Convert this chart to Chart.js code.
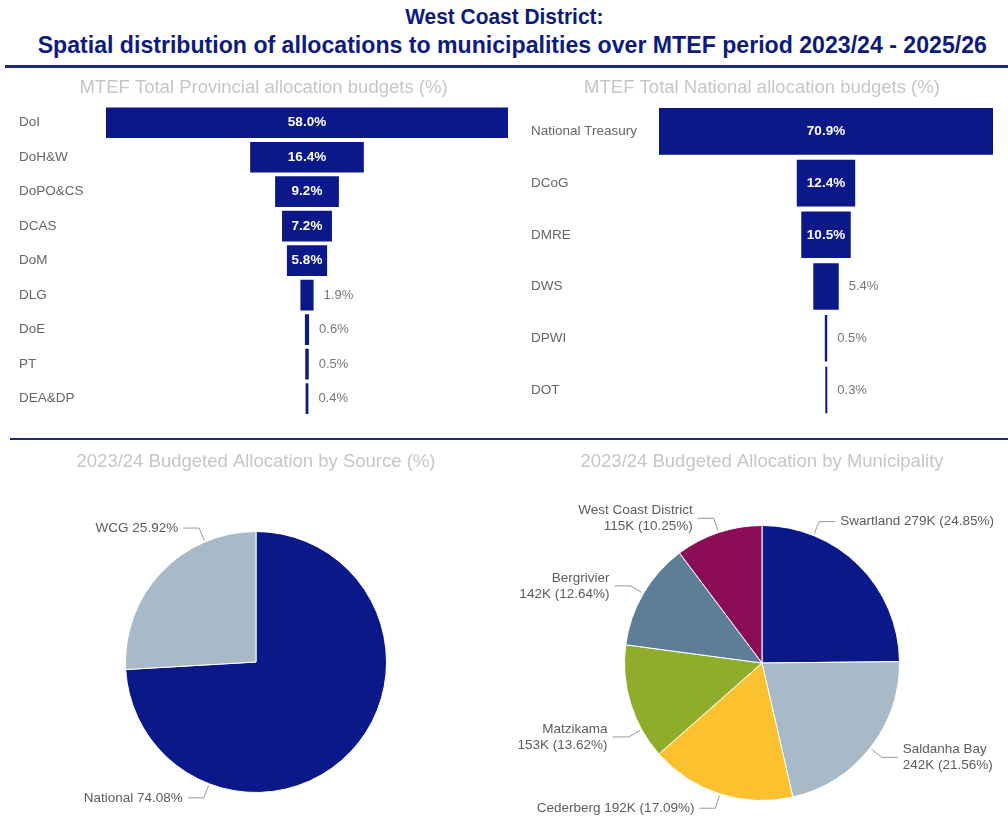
<!DOCTYPE html>
<html>
<head>
<meta charset="utf-8">
<title>West Coast District allocations</title>
<script src="https://cdn.jsdelivr.net/npm/chart.js@4.4.1/dist/chart.umd.min.js"></script>
<style>
  body { margin: 0; background: #fff; font-family: 'Liberation Sans', Arial, sans-serif; }
  #page { position: relative; width: 1008px; height: 818px; overflow: hidden; }
  #header { position: absolute; top: 3px; left: 0; width: 1008px; text-align: center;
    font-weight: bold; line-height: 27px; color: #0d1a80; }
  #header span { display: inline-block; white-space: nowrap; }
  #header .l1 { font-size: 22px; transform: scaleX(0.95); }
  #header .l2 { font-size: 23px; transform: translateX(8px) scaleX(1.005); }
  .rule { position: absolute; background: #1d2a80; }
  canvas { position: absolute; }
</style>
</head>
<body>
<div id="page">
  <div id="header">
    <span class="l1">West Coast District:</span><br>
    <span class="l2">Spatial distribution of allocations to municipalities over MTEF period 2023/24 - 2025/26</span>
  </div>
  <div class="rule" style="top:65px;left:5px;width:1003px;height:3px;"></div>
  <div class="rule" style="top:438px;left:10px;width:998px;height:2px;"></div>

  <canvas id="prov-chart" width="536" height="355" style="left:0;top:72px;"></canvas>
  <canvas id="nat-chart" width="486" height="355" style="left:522px;top:72px;"></canvas>
  <canvas id="source-chart" width="512" height="373" style="left:0;top:445px;"></canvas>
  <canvas id="muni-chart" width="492" height="373" style="left:516px;top:445px;"></canvas>
</div>

<script>
// Provincial departments (% of MTEF total)
const provLabels = ['DoI', 'DoH&W', 'DoPO&CS', 'DCAS', 'DoM', 'DLG', 'DoE', 'PT', 'DEA&DP'];
const provValues = [58.0, 16.4, 9.2, 7.2, 5.8, 1.9, 0.6, 0.5, 0.4];

// National departments (% of MTEF total)
const natLabels = ['National Treasury', 'DCoG', 'DMRE', 'DWS', 'DPWI', 'DOT'];
const natValues = [70.9, 12.4, 10.5, 5.4, 0.5, 0.3];

// 2023/24 allocation by source (%)
const sourceLabels = ['National', 'WCG'];
const sourceValues = [74.08, 25.92];

// 2023/24 allocation by municipality (R thousand) and share (%)
const muniLabels = ['Swartland', 'Saldanha Bay', 'Cederberg', 'Matzikama', 'Bergrivier', 'West Coast District'];
const muniValues = [279, 242, 192, 153, 142, 115];
const muniShares = [24.85, 21.56, 17.09, 13.62, 12.64, 10.25];

const NAVY = '#0a1889';
const FONT = "'Liberation Sans', Arial, sans-serif";
const TITLE_GREY = '#c6c6c6';
Chart.defaults.font.family = FONT;
Chart.defaults.animation = false;

/**
 * Value labels on funnel bars: inside (white, bold) when they fit, else to the right
 */
const funnelLabels = {
  id: 'funnelLabels',
  afterDatasetsDraw(chart) {
    const ctx = chart.ctx;
    const values = chart.data.datasets[0].raw;
    const meta = chart.getDatasetMeta(0);
    ctx.save();
    ctx.textBaseline = 'middle';
    meta.data.forEach((bar, i) => {
      const text = values[i].toFixed(1) + '%';
      const left = Math.min(bar.x, bar.base);
      const right = Math.max(bar.x, bar.base);
      ctx.font = 'bold 13.5px ' + FONT;
      const w = ctx.measureText(text).width;
      if (w + 8 < right - left) {
        ctx.fillStyle = '#ffffff';
        ctx.textAlign = 'center';
        ctx.fillText(text, (left + right) / 2, bar.y);
      } else {
        ctx.font = '13px ' + FONT;
        ctx.fillStyle = '#777777';
        ctx.textAlign = 'left';
        ctx.fillText(text, right + 10, bar.y);
      }
    });
    ctx.restore();
  }
};

/**
 * Pie labels with leader lines (edge -> elbow -> horizontal -> text)
 */
const pieLeaders = {
  id: 'pieLeaders',
  afterDatasetsDraw(chart, args, opts) {
    const ctx = chart.ctx;
    const meta = chart.getDatasetMeta(0);
    ctx.save();
    ctx.font = '13.5px ' + FONT;
    ctx.textBaseline = 'middle';
    meta.data.forEach((arc, i) => {
      const p = arc.getProps(['x', 'y', 'outerRadius', 'startAngle', 'endAngle'], true);
      const hint = opts.anchors ? opts.anchors[i] : null;
      const a = hint != null ? (hint - 90) * Math.PI / 180 : (p.startAngle + p.endAngle) / 2;
      const cos = Math.cos(a), sin = Math.sin(a);
      const x0 = p.x + (p.outerRadius + 2) * cos, y0 = p.y + (p.outerRadius + 2) * sin;
      const x1 = p.x + (p.outerRadius + 15) * cos, y1 = p.y + (p.outerRadius + 15) * sin;
      const right = cos >= 0;
      const x2 = x1 + (right ? 16 : -16);

      ctx.strokeStyle = '#9a9a9a';
      ctx.lineWidth = 1;
      ctx.beginPath();
      ctx.moveTo(x0, y0);
      ctx.lineTo(x1, y1);
      ctx.lineTo(x2, y1);
      ctx.stroke();

      const parts = opts.text(i);
      const tx = x2 + (right ? 5 : -5);
      const full = parts.join(' ');
      const fw = ctx.measureText(full).width;
      const fits = right ? tx + fw < chart.width - 2 : tx - fw > 2;
      const lines = fits ? [full] : parts;
      ctx.fillStyle = '#5c5c5c';
      ctx.textAlign = right ? 'left' : 'right';
      const lh = 16;
      lines.forEach((ln, k) => {
        ctx.fillText(ln, tx, y1 + (k - (lines.length - 1) / 2) * lh);
      });
    });
    ctx.restore();
  }
};

function funnelChart(id, labels, values, title, axisWidth, pad, barPct) {
  const half = Math.max(...values) / 2;
  return new Chart(document.getElementById(id), {
    type: 'bar',
    data: {
      labels,
      datasets: [{
        data: values.map(v => [-v / 2, v / 2]),
        raw: values,
        backgroundColor: NAVY,
        borderWidth: 0,
        categoryPercentage: 1,
        barPercentage: barPct,
        minBarLength: 2
      }]
    },
    options: {
      indexAxis: 'y',
      responsive: false,
      layout: { padding: pad },
      plugins: {
        legend: { display: false },
        tooltip: { enabled: false },
        title: {
          display: true,
          text: title,
          color: TITLE_GREY,
          font: { size: 18.5, weight: 'normal', lineHeight: 1 },
          padding: { top: 7, bottom: 8 }
        }
      },
      scales: {
        x: { display: false, min: -half, max: half },
        y: {
          grid: { display: false },
          border: { display: false },
          ticks: { crossAlign: 'far', color: '#666666', font: { size: 13.5 } },
          afterFit(scale) { scale.width = axisWidth; }
        }
      }
    },
    plugins: [funnelLabels]
  });
}

funnelChart('prov-chart', provLabels, provValues, 'MTEF Total Provincial allocation budgets (%)',
  87, { left: 19, right: 28, bottom: 4 }, 0.89);
funnelChart('nat-chart', natLabels, natValues, 'MTEF Total National allocation budgets (%)',
  128, { left: 9, right: 15, bottom: 6 }, 0.9);

function pieChart(id, labels, values, colors, title, titleGap, padBottom, labelOpts) {
  return new Chart(document.getElementById(id), {
    type: 'pie',
    data: {
      labels,
      datasets: [{
        data: values,
        backgroundColor: colors,
        borderColor: '#ffffff',
        borderWidth: 1
      }]
    },
    options: {
      responsive: false,
      layout: { padding: { bottom: padBottom } },
      plugins: {
        legend: { display: false },
        tooltip: { enabled: false },
        title: {
          display: true,
          text: title,
          color: TITLE_GREY,
          font: { size: 18.5, weight: 'normal', lineHeight: 1 },
          padding: { top: 8, bottom: titleGap }
        },
        pieLeaders: labelOpts
      }
    },
    plugins: [pieLeaders]
  });
}

pieChart('source-chart', sourceLabels, sourceValues, [NAVY, '#a8b9c8'],
  '2023/24 Budgeted Allocation by Source (%)', 59.5, 25, {
    anchors: [201, 337],
    text: i => [sourceLabels[i], sourceValues[i].toFixed(2) + '%']
  });

pieChart('muni-chart', muniLabels, muniValues,
  [NAVY, '#a8b9c8', '#fbc12e', '#8fac2b', '#5e7d96', '#8b0d55'],
  '2023/24 Budgeted Allocation by Municipality', 53.5, 17, {
    anchors: [22, null, null, 241, null, null],
    text: i => [muniLabels[i], muniValues[i] + 'K (' + muniShares[i].toFixed(2) + '%)']
  });
</script>
</body>
</html>
